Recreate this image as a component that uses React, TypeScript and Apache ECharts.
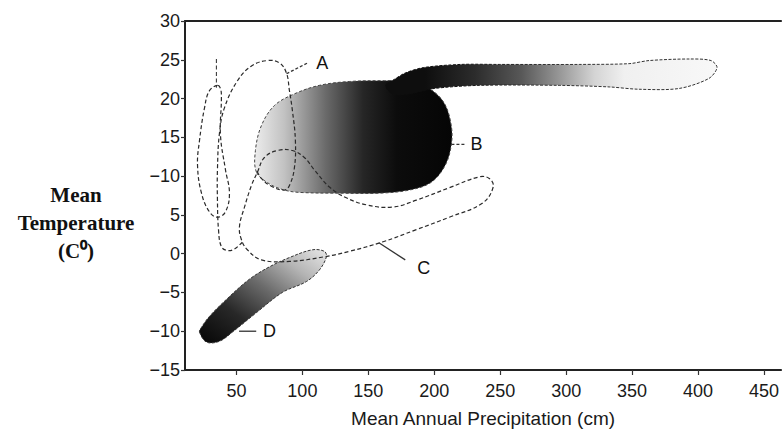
import React, { useEffect, useRef } from "react";
import * as echarts from "echarts";

// Axis ticks
const xTickValues = [50, 100, 150, 200, 250, 300, 350, 400, 450];
const yTickValues = [-15, -10, -5, 0, 5, 10, 15, 20, 25, 30];
const yTickLabels = ["\u221215", "\u221210", "\u22125", "0", "5", "\u221210", "15", "20", "25", "30"];

// Region outlines: [precipitation (cm), temperature (°C)]
const regionBTail = [
  [163.0, 21.7], [170.0, 22.5], [178.0, 23.3], [192.0, 24.0], [220.0, 24.4], [249.2, 24.4],
  [309.8, 24.4], [347.7, 24.5], [362.9, 24.9], [393.2, 25.1], [409.8, 24.9], [414.4, 24.0],
  [408.3, 22.6], [385.6, 21.3], [355.3, 21.2], [332.6, 21.5], [294.7, 21.7], [234.1, 21.7],
  [200.0, 21.3], [180.0, 20.6], [168.0, 20.6],
];
const regionB = [
  [65.2, 10.5], [64.4, 13.3], [68.9, 16.5], [78.8, 19.1], [93.9, 20.6], [112.9, 21.7],
  [135.6, 22.2], [162.1, 22.3], [181.1, 22.2], [196.2, 21.3], [207.6, 19.4], [212.9, 16.5],
  [212.9, 14.0], [208.3, 11.4], [197.7, 9.2], [181.1, 8.2], [158.3, 7.8], [128.0, 7.8],
  [97.7, 7.9], [86.4, 8.2], [75.0, 9.0],
];
const regionD = [
  [22.0, -10.1], [27.3, -11.4], [37.1, -11.3], [47.0, -10.1], [65.2, -7.6], [84.8, -5.0],
  [103.0, -3.6], [112.9, -2.1], [118.2, -0.4], [116.7, 0.3], [107.6, 0.5], [90.2, -0.5],
  [75.0, -1.7], [59.8, -3.3], [42.4, -5.9], [29.5, -8.1], [23.5, -9.5],
];
const regionA = [
  [54.5, 1.5], [48.5, 0.6], [43.2, 0.4], [38.6, 0.9], [36.4, 3.1], [35.6, 6.9], [35.6, 10.8],
  [37.1, 15.5], [40.9, 18.8], [50.8, 22.3], [61.4, 24.2], [73.5, 24.9], [82.6, 24.6],
  [87.9, 23.3], [90.2, 21.0], [92.4, 18.5], [94.7, 14.6], [93.9, 11.0], [90.2, 8.8],
  [86.4, 8.2], [76.5, 8.7], [68.9, 9.7], [65.2, 10.8],
];
const regionC = [
  [65.9, 10.5], [71.2, 12.4], [81.1, 13.3], [92.4, 13.3], [101.5, 12.4], [109.1, 10.8],
  [120.5, 8.6], [133.3, 7.2], [148.5, 6.3], [168.2, 6.0], [186.4, 6.9], [211.4, 8.5],
  [234.1, 9.9], [241.7, 9.7], [244.7, 8.6], [236.4, 6.5], [211.4, 4.7], [186.4, 3.1],
  [160.6, 1.5], [135.6, 0.3], [116.7, -0.4], [90.2, -1.0], [68.9, -0.8], [58.3, 0.5],
  [53.8, 1.8], [52.3, 3.5], [56.1, 6.0], [61.4, 8.8],
];
const narrowLoop = [
  [35.6, 21.7], [29.5, 21.0], [25.8, 18.8], [22.0, 14.6], [20.5, 11.4], [23.5, 7.8],
  [29.5, 5.4], [35.6, 4.7], [41.7, 5.4], [44.7, 7.8], [41.7, 10.8], [37.9, 15.3],
  [38.6, 20.1], [37.9, 21.3],
];
const narrowStem = [[34.8, 25.1], [34.8, 21.4]];

// Region labels and their leader lines
const labelNames = ["A", "B", "C", "D"];
const labelPoints = [[115, 24.6], [232, 14.1], [192, -1.8], [75, -10]];
const leaderFrom = [[88, 23.2], [213, 14.1], [158, 1.4], [52, -10]];
const leaderTo = [[104, 24.6], [224, 14.1], [178, -0.8], [65, -10]];
const leaderDashed = [true, true, false, false];

export default function App() {
  const ref = useRef<HTMLDivElement>(null);
  useEffect(() => {
    const chart = echarts.init(ref.current!, null, { renderer: "svg" });
    const lin = (x0: number, y0: number, x1: number, y1: number, stops: [number, string][]) =>
      new echarts.graphic.LinearGradient(x0, y0, x1, y1, stops.map(([offset, color]) => ({ offset, color })));

    const shape = (name: string, pts: number[][], kind: "polygon" | "polyline", style: any, z: number, smooth = 0.35) => ({
      type: "custom",
      name,
      data: pts,
      silent: true,
      z,
      renderItem: (params: any, api: any) => {
        if (params.dataIndex !== 0) return null;
        const points = pts.map((p) => api.coord(p));
        return { type: kind, shape: { points, smooth }, style };
      },
    });

    const dash = { stroke: "#2a2a2a", lineWidth: 1.2, lineDash: [4, 2.5], fill: "none" };
    const sans = '"Liberation Sans", Arial, sans-serif';

    const labelSeries = {
      type: "custom",
      name: "labels",
      data: labelPoints,
      silent: true,
      z: 10,
      renderItem: (params: any, api: any) => {
        const i = params.dataIndex;
        const p = api.coord(labelPoints[i]);
        const a = api.coord(leaderFrom[i]);
        const b = api.coord(leaderTo[i]);
        return {
          type: "group",
          children: [
            {
              type: "line",
              shape: { x1: a[0], y1: a[1], x2: b[0], y2: b[1] },
              style: { stroke: "#333", lineWidth: 1.3, lineDash: leaderDashed[i] ? [3, 2] : null },
            },
            {
              type: "text",
              x: p[0],
              y: p[1],
              style: {
                text: labelNames[i],
                font: "18px " + sans,
                fill: "#111",
                align: "center",
                verticalAlign: "middle",
              },
            },
          ],
        };
      },
    };

    chart.setOption({
      animation: false,
      backgroundColor: "#ffffff",
      grid: { left: 185, right: 0, top: 21, bottom: 61 },
      xAxis: [
        {
          type: "value",
          min: 11,
          max: 463,
          position: "bottom",
          name: "Mean Annual Precipitation (cm)",
          nameLocation: "middle",
          nameGap: 39,
          nameTextStyle: { fontSize: 19, color: "#1a1a1a", fontFamily: sans },
          axisLine: { show: true, onZero: false, lineStyle: { color: "#222", width: 2 } },
          axisTick: { show: true, customValues: xTickValues, length: 5, lineStyle: { color: "#333", width: 1.2 } },
          axisLabel: {
            customValues: xTickValues,
            fontSize: 18,
            color: "#1a1a1a",
            margin: 12,
            fontFamily: sans,
          },
          splitLine: { show: false },
        },
        {
          type: "value",
          min: 11,
          max: 463,
          position: "top",
          axisLine: { show: true, onZero: false, lineStyle: { color: "#222", width: 2 } },
          axisTick: { show: false },
          axisLabel: { show: false },
          splitLine: { show: false },
        },
      ],
      yAxis: {
        type: "value",
        min: -15,
        max: 30,
        interval: 5,
        axisLine: { show: true, onZero: false, lineStyle: { color: "#222", width: 2 } },
        axisTick: { show: true, length: 4, lineStyle: { color: "#333", width: 1.2 } },
        axisLabel: {
          fontSize: 18,
          color: "#1a1a1a",
          margin: 5,
          fontFamily: sans,
          formatter: (v: number) => {
            const i = yTickValues.indexOf(Math.round(v));
            return i >= 0 ? yTickLabels[i] : "";
          },
        },
        splitLine: { show: false },
      },
      graphic: [
        {
          type: "text",
          x: 76,
          y: 223,
          style: {
            text: "Mean\nTemperature\n(C\u2070)",
            font: 'bold 21px "Liberation Serif", "Times New Roman", serif',
            fill: "#111",
            align: "center",
            verticalAlign: "middle",
            lineHeight: 28,
          },
        },
      ],
      series: [
        shape("B", regionB, "polygon", {
          fill: lin(0, 0, 1, 0, [[0, "#ececec"], [0.15, "#c2c2c2"], [0.36, "#6a6a6a"], [0.55, "#262626"], [0.72, "#0c0c0c"], [1, "#050505"]]),
          stroke: "#444", lineWidth: 1, lineDash: [3, 2],
        }, 2, 0.35),
        shape("B tail", regionBTail, "polygon", {
          fill: lin(0, 0, 1, 0, [[0, "#0e0e0e"], [0.12, "#0e0e0e"], [0.27, "#2c2c2c"], [0.41, "#585858"], [0.53, "#9a9a9a"], [0.63, "#d4d4d4"], [0.72, "#f0f0f0"], [1, "#f8f8f8"]]),
          stroke: lin(0, 0, 1, 0, [[0, "#0e0e0e"], [0.2, "#0e0e0e"], [0.5, "#333333"], [1, "#333333"]]),
          lineWidth: 1, lineDash: [3, 1.5],
        }, 3, 0.3),
        shape("D", regionD, "polygon", {
          fill: lin(0, 1, 1, 0, [[0, "#050505"], [0.3, "#282828"], [0.55, "#6a6a6a"], [0.78, "#b4b4b4"], [1, "#e8e8e8"]]),
          stroke: "#333", lineWidth: 1, lineDash: [3, 1.5],
        }, 3, 0.35),
        shape("A", regionA, "polyline", dash, 5, 0.4),
        shape("C", regionC, "polygon", dash, 5, 0.4),
        shape("narrow loop", narrowLoop, "polygon", dash, 5, 0.4),
        shape("stem", narrowStem, "polyline", { ...dash, lineWidth: 1 }, 5, 0),
        labelSeries,
      ],
    });
    return () => chart.dispose();
  }, []);
  return <div ref={ref} style={{ position: "fixed", left: 0, top: 0, width: 782, height: 433, background: "#fff" }} />;
}
